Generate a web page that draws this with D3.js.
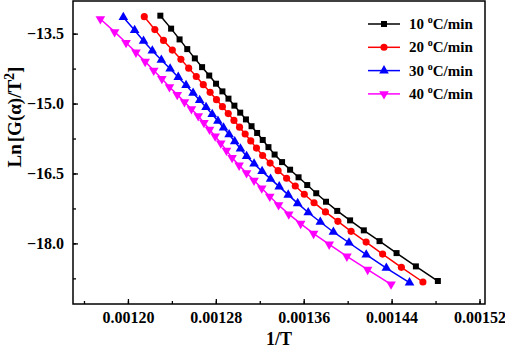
<!DOCTYPE html>
<html>
<head>
    <meta charset="utf-8">
    <title>Ln[G(a)/T2] vs 1/T</title>
    <script src="https://cdn.jsdelivr.net/npm/d3@7"></script>
    <style>
        body { margin: 0; background: #fff; }
        text { font-family: "Liberation Serif", "Times New Roman", serif; font-weight: bold; }
    </style>
</head>
<body>
<script type="text/javascript">
// heating rates
var rates = ["10", "20", "30", "40"];
var colors = ["#000000", "#ff0000", "#0000ff", "#ff00ff"];

// 1/T values (x1e-6)
var x10 = [1229.5,1239.3,1247.0,1254.0,1260.9,1267.5,1274.0,1280.2,1286.0,1291.5,1296.9,1302.2,1307.4,1312.5,1317.6,1322.7,1327.9,1333.5,1340.3,1347.6,1355.3,1363.2,1371.4,1380.3,1390.5,1402.2,1414.7,1429.0,1444.5,1462.1,1482.1];
var x20 = [1214.9,1224.5,1232.4,1240.4,1248.2,1255.3,1262.2,1268.6,1274.8,1280.6,1286.0,1291.3,1296.5,1301.6,1306.7,1311.8,1317.0,1322.6,1329.4,1336.7,1344.4,1352.3,1360.5,1369.4,1379.8,1391.1,1403.1,1416.8,1431.8,1448.9,1468.5];
var x30 = [1195.8,1206.1,1214.2,1222.2,1230.4,1238.4,1245.8,1252.9,1259.3,1265.3,1271.1,1276.7,1281.9,1287.0,1292.1,1297.2,1302.4,1308.0,1314.8,1322.1,1329.8,1337.7,1345.9,1354.5,1364.1,1375.1,1387.0,1401.2,1416.9,1435.2,1456.3];
var x40 = [1174.9,1187.9,1198.3,1207.3,1215.7,1223.5,1230.9,1237.8,1244.9,1251.5,1257.8,1264.0,1269.2,1274.3,1279.4,1284.5,1289.7,1294.8,1301.2,1308.0,1314.8,1321.8,1329.1,1337.1,1346.4,1357.2,1369.0,1383.2,1399.3,1418.2,1439.5];

// Ln[G(a)/T^2] values
var y10 = [-13.115,-13.393,-13.624,-13.832,-14.031,-14.219,-14.399,-14.574,-14.739,-14.895,-15.045,-15.195,-15.340,-15.486,-15.631,-15.781,-15.935,-16.094,-16.256,-16.419,-16.582,-16.748,-16.924,-17.106,-17.303,-17.506,-17.720,-17.951,-18.208,-18.493,-18.807];
var y20 = [-13.136,-13.414,-13.645,-13.853,-14.052,-14.240,-14.420,-14.595,-14.760,-14.916,-15.066,-15.216,-15.361,-15.507,-15.652,-15.802,-15.956,-16.115,-16.277,-16.440,-16.603,-16.769,-16.945,-17.127,-17.324,-17.527,-17.741,-17.972,-18.229,-18.514,-18.828];
var y30 = [-13.150,-13.428,-13.659,-13.867,-14.066,-14.254,-14.434,-14.609,-14.774,-14.930,-15.080,-15.230,-15.375,-15.521,-15.666,-15.816,-15.970,-16.129,-16.291,-16.454,-16.617,-16.783,-16.959,-17.141,-17.338,-17.541,-17.755,-17.986,-18.243,-18.528,-18.842];
var y40 = [-13.185,-13.463,-13.694,-13.902,-14.101,-14.289,-14.469,-14.644,-14.809,-14.965,-15.115,-15.265,-15.410,-15.556,-15.701,-15.851,-16.005,-16.164,-16.326,-16.489,-16.652,-16.818,-16.994,-17.176,-17.373,-17.576,-17.790,-18.021,-18.278,-18.563,-18.877];

// tick labels
var xTicks = [0.00120, 0.00128, 0.00136, 0.00144, 0.00152];
var yTicks = [-13.5, -15.0, -16.5, -18.0];

var xs = [x10, x20, x30, x40];
var ys = [y10, y20, y30, y40];
var symbols = [d3.symbolSquare, d3.symbolCircle, d3.symbolTriangle, d3.symbolTriangle];
var symSizes = [36, 40, 40, 40];
var rotations = [0, 0, 0, 180];

var w = 505, h = 349;
var mLeft = 73, mRight = 485, mTop = 1, mBottom = 304;

var svg = d3.select("body").append("svg")
    .attr("width", w)
    .attr("height", h);

var x = d3.scaleLinear().domain([0.00115, 0.001525]).range([mLeft, mRight]);
var y = d3.scaleLinear().domain([-19.3, -12.8]).range([mBottom, mTop]);

// minor ticks (no labels)
var xMinor = [];
for (var v = 116; v <= 152; v += 4) xMinor.push(v / 100000);
var yMinor = [];
for (var m = -19.5; m <= -12.75; m += 0.75) if (m > -19.3 && m < -12.8) yMinor.push(m);

svg.append("g")
    .attr("transform", "translate(0," + mBottom + ")")
    .call(d3.axisBottom(x).tickValues(xMinor).tickSizeInner(-3).tickSizeOuter(0).tickFormat(""));
svg.append("g")
    .attr("transform", "translate(" + mLeft + ",0)")
    .call(d3.axisLeft(y).tickValues(yMinor).tickSizeInner(-3).tickSizeOuter(0).tickFormat(""));

// major ticks
svg.append("g")
    .attr("transform", "translate(0," + mBottom + ")")
    .call(d3.axisBottom(x).tickValues(xTicks).tickSizeInner(-5).tickSizeOuter(0).tickPadding(8)
        .tickFormat(d3.format(".5f")));
svg.append("g")
    .attr("transform", "translate(" + mLeft + ",0)")
    .call(d3.axisLeft(y).tickValues(yTicks).tickSizeInner(-5).tickSizeOuter(0).tickPadding(9)
        .tickFormat(d3.format(".1f")));

svg.selectAll(".tick text")
    .style("font-size", "16px")
    .style("font-family", "Liberation Serif")
    .style("font-weight", "bold")
    .attr("fill", "#000");
svg.selectAll(".tick line").attr("stroke", "#000").attr("stroke-width", 1.3);
svg.selectAll(".domain").remove();

// frame
svg.append("rect")
    .attr("x", mLeft)
    .attr("y", mTop)
    .attr("width", mRight - mLeft)
    .attr("height", mBottom - mTop)
    .attr("fill", "none")
    .attr("stroke", "#000")
    .attr("stroke-width", 1.5);

// series
var line = d3.line()
    .x(function(d){ return x(d[0]); })
    .y(function(d){ return y(d[1]); });

for (var s = 0; s < rates.length; s++) {
    var pts = xs[s].map(function(d, i){ return [d / 1000000, ys[s][i]]; });
    svg.append("path")
        .datum(pts)
        .attr("d", line)
        .attr("fill", "none")
        .attr("stroke", colors[s])
        .attr("stroke-width", 1.5);
    svg.append("g").selectAll("path")
        .data(pts)
        .enter()
        .append("path")
        .attr("d", d3.symbol().type(symbols[s]).size(symSizes[s]))
        .attr("transform", (function(r){
            return function(d){ return "translate(" + x(d[0]) + "," + y(d[1]) + ") rotate(" + r + ")"; };
        })(rotations[s]))
        .attr("fill", colors[s]);
}

// legend
var legend = svg.append("g");
for (var k = 0; k < rates.length; k++) {
    var ly = 24 + k * 23.3;
    legend.append("line")
        .attr("x1", 368).attr("x2", 400)
        .attr("y1", ly).attr("y2", ly)
        .attr("stroke", colors[k])
        .attr("stroke-width", 1.5);
    legend.append("path")
        .attr("d", d3.symbol().type(symbols[k]).size(symSizes[k]))
        .attr("transform", "translate(384," + ly + ") rotate(" + rotations[k] + ")")
        .attr("fill", colors[k]);
    var t = legend.append("text")
        .attr("x", 409)
        .attr("y", ly + 5)
        .style("font-size", "15px")
        .attr("fill", "#000");
    t.append("tspan").text(rates[k] + " ");
    t.append("tspan").text("o").style("font-size", "10px").attr("dy", "-6");
    t.append("tspan").text("C/min").attr("dy", "6");
}

// axis titles
svg.append("text")
    .text("1/T")
    .attr("x", (mLeft + mRight) / 2)
    .attr("y", 345)
    .attr("text-anchor", "middle")
    .style("font-size", "18px");

var yt = svg.append("text")
    .attr("transform", "translate(21,117) rotate(-90)")
    .attr("text-anchor", "middle")
    .style("font-size", "19px");
yt.append("tspan").text("Ln");
yt.append("tspan").text("[").attr("dx", "2");
yt.append("tspan").text("G(\u03b1)/T");
yt.append("tspan").text("2").style("font-size", "14px").attr("dy", "-7");
yt.append("tspan").text("]").attr("dy", "7");
</script>
</body>
</html>
